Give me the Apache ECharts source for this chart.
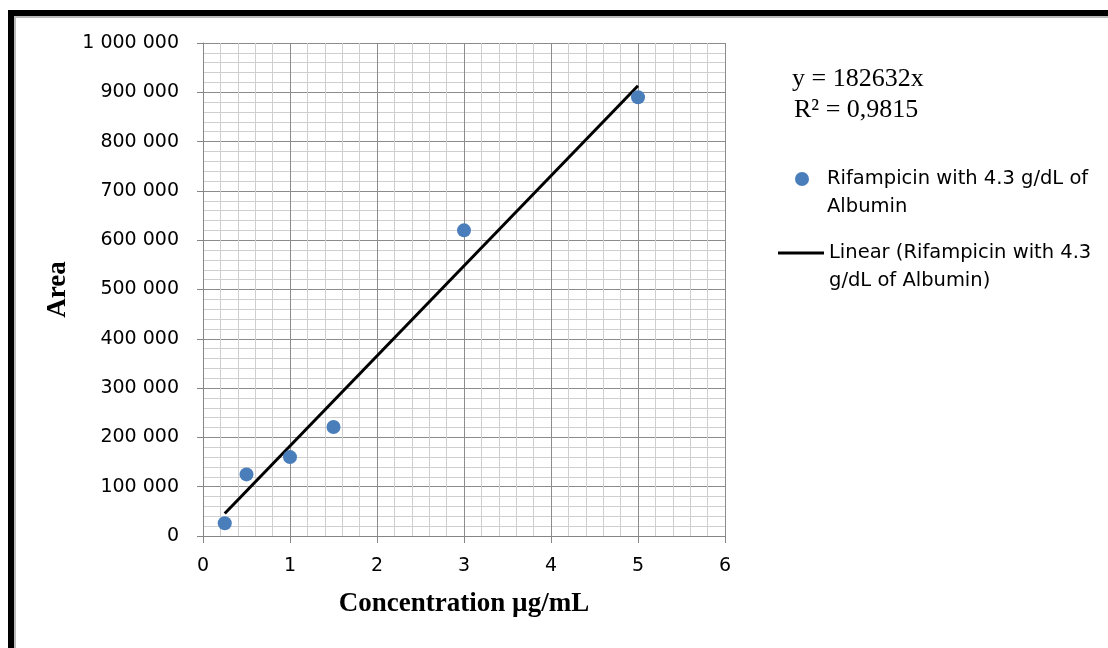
<!DOCTYPE html>
<html>
<head>
<meta charset="utf-8">
<script src="https://cdn.jsdelivr.net/npm/echarts@6/dist/echarts.min.js"></script>
<style>
  html, body { margin: 0; padding: 0; background: #fff; }
  #chart { position: absolute; left: 0; top: 0; width: 1108px; height: 648px; }
  .frame {
    position: absolute; left: 8px; top: 10px; width: 1100px; height: 638px;
    border-left: 6px solid #000; border-top: 6px solid #000;
    box-shadow: inset 2px 2px 0 #bbb;
    pointer-events: none;
  }
</style>
</head>
<body>
<div id="chart"></div>
<div class="frame"></div>
<script>
// measured points
const concentration = [0.25, 0.5, 1, 1.5, 3, 5]
const area = [26000, 125000, 160000, 221000, 620000, 890000]

// trend line ends, y = 182632x
const trendX = [0.25, 5]
const trendY = [45658, 913160]

const seriesName = 'Rifampicin with 4.3 g/dL of Albumin'
const trendName = 'Linear (Rifampicin with 4.3 g/dL of Albumin)'
const legendLines = {
  [seriesName]: ['Rifampicin with 4.3 g/dL of', 'Albumin'],
  [trendName]: ['Linear (Rifampicin with 4.3', 'g/dL of Albumin)']
}

const sansFont = '"DejaVu Sans", sans-serif'
const serifFont = '"Liberation Serif", "Times New Roman", serif'

const fmtThousands = (v) => String(v).replace(/\B(?=(\d{3})+(?!\d))/g, ' ')

const chart = echarts.init(document.getElementById('chart'))

const legendText = {
  fontFamily: sansFont,
  fontSize: 19.5,
  color: '#000',
  lineHeight: 28
}

const option = {
  animation: false,
  grid: { left: 203, right: 383, top: 43, bottom: 112 },
  xAxis: {
    type: 'value',
    min: 0,
    max: 6,
    interval: 1,
    name: 'Concentration µg/mL',
    nameLocation: 'middle',
    nameGap: 55,
    nameTextStyle: { fontFamily: serifFont, fontWeight: 'bold', fontSize: 27, color: '#000' },
    axisLine: { show: true, onZero: false, lineStyle: { color: '#868686', width: 1 } },
    axisTick: { show: true, length: 7, lineStyle: { color: '#868686' } },
    axisLabel: { fontFamily: sansFont, fontSize: 19, color: '#000', margin: 21 },
    splitLine: { show: true, lineStyle: { color: '#8c8c8c', width: 1 } },
    minorTick: { show: false, splitNumber: 5 },
    minorSplitLine: { show: true, lineStyle: { color: '#cfcfcf', width: 1 } }
  },
  yAxis: {
    type: 'value',
    min: 0,
    max: 1000000,
    interval: 100000,
    name: 'Area',
    nameLocation: 'middle',
    nameGap: 131,
    nameTextStyle: { fontFamily: serifFont, fontWeight: 'bold', fontSize: 27, color: '#000' },
    axisLine: { show: true, lineStyle: { color: '#868686', width: 1 } },
    axisTick: { show: true, length: 6, lineStyle: { color: '#868686' } },
    axisLabel: { fontFamily: sansFont, fontSize: 19, color: '#000', margin: 24, formatter: fmtThousands },
    splitLine: { show: true, lineStyle: { color: '#8c8c8c', width: 1 } },
    minorTick: { show: false, splitNumber: 5 },
    minorSplitLine: { show: true, lineStyle: { color: '#cfcfcf', width: 1 } }
  },
  legend: [
    {
      data: [seriesName],
      orient: 'vertical',
      left: 790,
      top: 132,
      icon: 'circle',
      itemWidth: 14,
      itemHeight: 14,
      formatter: (name) => '\n' + legendLines[name].join('\n'),
      textStyle: Object.assign({ padding: [0, 0, 0, 13] }, legendText)
    },
    {
      data: [trendName],
      orient: 'vertical',
      left: 773,
      top: 206,
      icon: 'rect',
      itemWidth: 46,
      itemHeight: 3,
      formatter: (name) => '\n' + legendLines[name].join('\n'),
      textStyle: Object.assign({ padding: [0, 0, 0, 0] }, legendText)
    }
  ],
  graphic: [
    {
      type: 'text',
      left: 792,
      top: 66,
      style: { text: 'y = 182632x', fontFamily: serifFont, fontSize: 26, fill: '#000' }
    },
    {
      type: 'text',
      left: 794,
      top: 97,
      style: { text: 'R² = 0,9815', fontFamily: serifFont, fontSize: 26, fill: '#000' }
    }
  ],
  series: [
    {
      name: trendName,
      type: 'line',
      data: trendX.map((x, i) => [x, trendY[i]]),
      symbol: 'none',
      lineStyle: { color: '#000', width: 3 },
      itemStyle: { color: '#000' },
      z: 2
    },
    {
      name: seriesName,
      type: 'scatter',
      data: concentration.map((x, i) => [x, area[i]]),
      symbol: 'circle',
      symbolSize: 14,
      itemStyle: { color: '#4a7ebb', opacity: 1 },
      z: 3
    }
  ]
}

chart.setOption(option)
</script>
</body>
</html>
